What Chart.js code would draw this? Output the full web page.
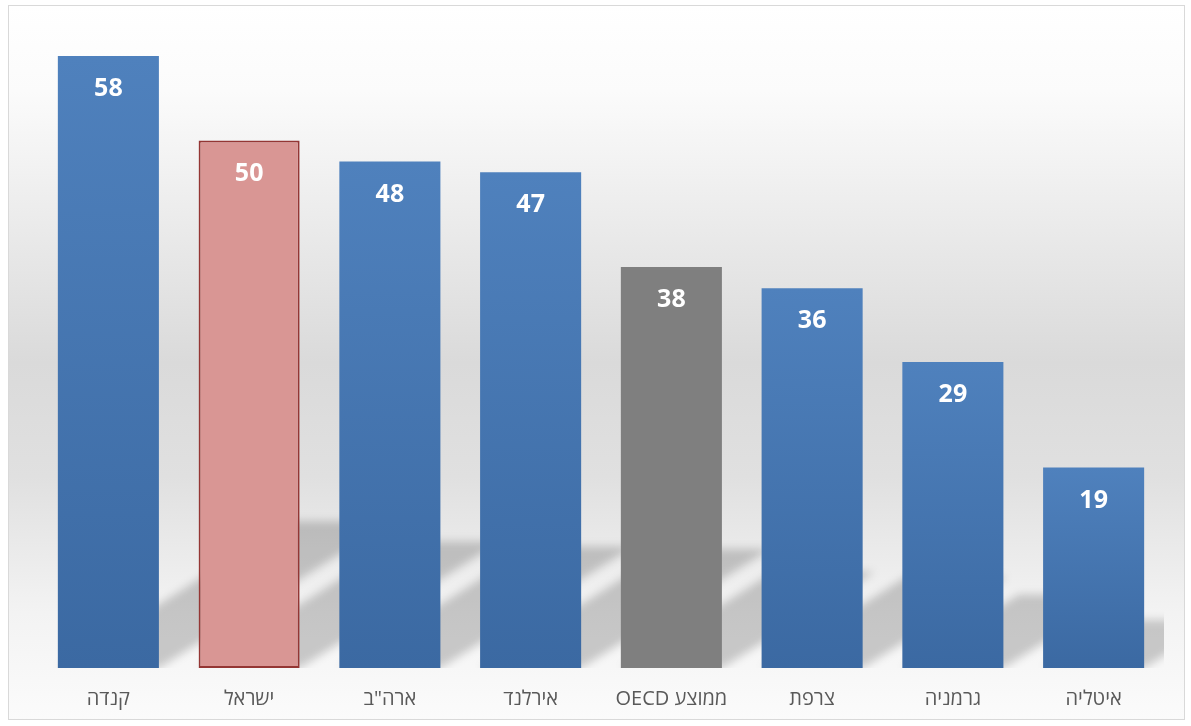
<!DOCTYPE html>
<html lang="he">
<head>
<meta charset="utf-8">
<script src="https://cdn.jsdelivr.net/npm/chart.js@4.4.1/dist/chart.umd.min.js"></script>
<style>
    body { margin: 0; background: #ffffff; }
    #c { display: block; direction: rtl; }
</style>
</head>
<body>
<canvas id="c" width="1191" height="726"></canvas>
<script>
// countries, left to right as in the picture
const categories = ['קנדה', 'ישראל', 'ארה"ב', 'אירלנד', 'ממוצע OECD', 'צרפת', 'גרמניה', 'איטליה'];
const values = [58, 50, 48, 47, 38, 36, 29, 19];
const yTicks = [0, 60];

// which bar gets which look
const barStyle = ['blue', 'red', 'blue', 'blue', 'grey', 'blue', 'blue', 'blue'];

const FONT = '"Open Sans", "DejaVu Sans", sans-serif';

function barFill(ctx) {
    const chart = ctx.chart;
    const kind = barStyle[ctx.dataIndex];
    if (kind == 'red') return '#d99694';
    if (kind == 'grey') return '#7f7f7f';
    const area = chart.chartArea;
    if (!area) return '#4a7ab5';
    const top = chart.scales.y.getPixelForValue(values[ctx.dataIndex]);
    const g = chart.ctx.createLinearGradient(0, top, 0, area.bottom);
    g.addColorStop(0, '#4f81bd');
    g.addColorStop(1, '#3b69a2');
    return g;
}

// light frame and grey band behind the plot
const backdrop = {
    id: 'backdrop',
    beforeDraw(chart) {
        const c = chart.ctx;
        c.save();
        c.fillStyle = '#ffffff';
        c.fillRect(0, 0, chart.width, chart.height);
        const g = c.createLinearGradient(0, 5, 0, 720);
        g.addColorStop(0, '#ffffff');
        g.addColorStop(0.12, '#fbfbfb');
        g.addColorStop(0.5, '#dadada');
        g.addColorStop(0.66, '#e0e0e0');
        g.addColorStop(0.85, '#f3f3f3');
        g.addColorStop(1, '#fbfbfb');
        c.fillStyle = g;
        c.fillRect(8.5, 5.5, 1176, 714);
        c.strokeStyle = '#d9d9d9';
        c.lineWidth = 1;
        c.strokeRect(8.5, 5.5, 1176, 714);
        c.restore();
    }
};

// slanted shadows cast by the bars
const barShadows = {
    id: 'barShadows',
    beforeDatasetsDraw(chart) {
        const c = chart.ctx;
        const area = chart.chartArea;
        const meta = chart.getDatasetMeta(0);
        c.save();
        c.beginPath();
        c.rect(area.left, area.top, area.right - area.left, area.bottom - area.top);
        c.clip();
        c.filter = 'blur(4px)';
        c.beginPath();
        meta.data.forEach(bar => {
            const h = bar.base - bar.y;
            const rise = h * 0.24;
            const run = rise / 0.63;
            const x0 = bar.x - bar.width / 2;
            const x1 = bar.x + bar.width / 2;
            c.moveTo(x0, bar.base);
            c.lineTo(x1, bar.base);
            c.lineTo(x1 + run, bar.base - rise);
            c.lineTo(x0 + run, bar.base - rise);
            c.closePath();
        });
        c.fillStyle = 'rgba(0,0,0,0.19)';
        c.fill();
        c.restore();
    }
};

// white numbers inside the top of each bar
const valueLabels = {
    id: 'valueLabels',
    afterDatasetsDraw(chart) {
        const c = chart.ctx;
        const meta = chart.getDatasetMeta(0);
        c.save();
        c.fillStyle = '#ffffff';
        c.font = 'bold 25px ' + FONT;
        c.textAlign = 'center';
        c.textBaseline = 'middle';
        meta.data.forEach((bar, i) => {
            c.fillText(String(values[i]), bar.x, bar.y + 33);
        });
        c.restore();
    }
};

new Chart(document.getElementById('c'), {
    type: 'bar',
    data: {
        labels: categories,
        datasets: [{
            data: values,
            backgroundColor: barFill,
            borderColor: ctx => barStyle[ctx.dataIndex] == 'red' ? '#943634' : 'rgba(0,0,0,0)',
            borderWidth: ctx => barStyle[ctx.dataIndex] == 'red' ? 2 : 0,
            borderSkipped: false,
            categoryPercentage: 1,
            barPercentage: 0.718
        }]
    },
    options: {
        responsive: false,
        animation: false,
        devicePixelRatio: 1,
        layout: { padding: { left: 38, right: 27, top: 35, bottom: 0 } },
        plugins: {
            legend: { display: false },
            tooltip: { enabled: false }
        },
        scales: {
            x: {
                grid: { display: false, drawTicks: false },
                border: { display: false },
                ticks: {
                    color: '#595959',
                    font: { family: FONT, size: 20 },
                    padding: 19,
                    maxRotation: 0
                },
                afterFit: s => { s.height = 58; }
            },
            y: {
                display: false,
                min: yTicks[0],
                max: yTicks[1]
            }
        }
    },
    plugins: [backdrop, barShadows, valueLabels]
});
</script>
</body>
</html>
